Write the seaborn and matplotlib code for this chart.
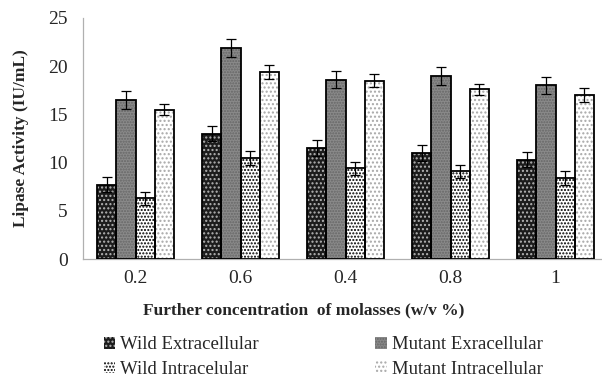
import matplotlib
matplotlib.use("Agg")
import matplotlib.pyplot as plt
import seaborn as sns
import pandas as pd
import numpy as np
from matplotlib.patches import Rectangle

categories = ["0.2", "0.6", "0.4", "0.8", "1"]
series = ["Wild Extracellular", "Mutant Exracellular", "Wild Intracelular", "Mutant Intracellular"]
wild_extra = [7.7, 13.0, 11.5, 11.0, 10.3]
mutant_extra = [16.5, 21.9, 18.6, 19.0, 18.0]
wild_intra = [6.3, 10.5, 9.4, 9.1, 8.4]
mutant_intra = [15.5, 19.4, 18.5, 17.6, 17.0]
err_we = [0.8, 0.8, 0.8, 0.8, 0.8]
err_me = [0.9, 0.9, 0.9, 0.9, 0.9]
err_wi = [0.7, 0.7, 0.7, 0.7, 0.7]
err_mi = [0.6, 0.7, 0.7, 0.6, 0.7]

vals = [wild_extra, mutant_extra, wild_intra, mutant_intra]
errs = [err_we, err_me, err_wi, err_mi]
rows = []
for s, v in zip(series, vals):
    for c, x in zip(categories, v):
        rows.append({"conc": c, "series": s, "val": x})
df = pd.DataFrame(rows)

sns.set_theme(style="white")
plt.rcParams["font.family"] = ["Liberation Serif", "DejaVu Serif"]
plt.rcParams["hatch.linewidth"] = 1.0

fig = plt.figure(figsize=(6.02, 3.79), dpi=100)
ax = fig.add_axes([83/602, 120/379, 525/602, 241/379])

faces = ["#1c1c1c", "#8a8a8a", "#ffffff", "#ffffff"]
palette = dict(zip(series, faces))
sns.barplot(data=df, x="conc", y="val", hue="series", hue_order=series,
            order=categories, palette=palette, width=0.73, ax=ax,
            errorbar=None, legend=False, saturation=1)

hatches = ["....", "......", ".....", "...."]
hatch_cols = ["#b5b5b5", "#666666", "#000000", "#a8a8a8"]
n = len(categories)
for si in range(len(series)):
    for ci in range(n):
        p = ax.patches[si * n + ci]
        p.set_hatch(hatches[si])
        p.set_edgecolor(hatch_cols[si])
        p.set_linewidth(0)
        x0, w, h = p.get_x(), p.get_width(), p.get_height()
        ax.add_patch(Rectangle((x0, 0), w, h, fill=False, edgecolor="black", lw=1.3, zorder=3))
        ax.errorbar(x0 + w / 2, h, yerr=errs[si][ci], color="black", lw=0.9,
                    capsize=3.5, capthick=0.9, zorder=4)

ax.set_ylim(0, 25)
ax.set_xlim(-0.5, 4.5)
ax.set_yticks([0, 5, 10, 15, 20, 25])
ax.set_xticks(np.arange(n))
ax.set_xticklabels(categories)
ax.set_xticks(np.arange(n - 1) + 0.5, minor=True)
ax.tick_params(axis="x", which="major", length=0, labelsize=14, pad=8)
ax.tick_params(axis="x", which="minor", length=4, color="#aaaaaa", width=0.8, direction="out")
ax.tick_params(axis="y", length=4, color="#aaaaaa", width=0.8, direction="out", labelsize=14, pad=7)
for s in ["top", "right"]:
    ax.spines[s].set_visible(False)
for s in ["left", "bottom"]:
    ax.spines[s].set_color("#b0b0b0")
    ax.spines[s].set_linewidth(0.9)
ax.set_ylabel("Lipase Activity (IU/mL)", fontsize=12.5, fontweight="bold", labelpad=14)
ax.set_xlabel("")
fig.text(304/602, 1 - 310/379, "Further concentration  of molasses (w/v %)",
         ha="center", va="center", fontsize=12.5, fontweight="bold")

handles = []
for si in range(len(series)):
    handles.append(Rectangle((0, 0), 1, 1, facecolor=faces[si], hatch=hatches[si],
                             edgecolor=hatch_cols[si], lw=0))
order = [0, 2, 1, 3]
leg = fig.legend([handles[i] for i in order], [series[i] for i in order], ncol=2,
                 loc="center left",
                 bbox_to_anchor=(96/602, 1 - 357/379), frameon=False,
                 fontsize=13.5, handlelength=0.6, handleheight=0.6, handletextpad=0.3,
                 columnspacing=6.2, labelspacing=0.4, borderaxespad=0)

fig.savefig("out.png", dpi=100)
